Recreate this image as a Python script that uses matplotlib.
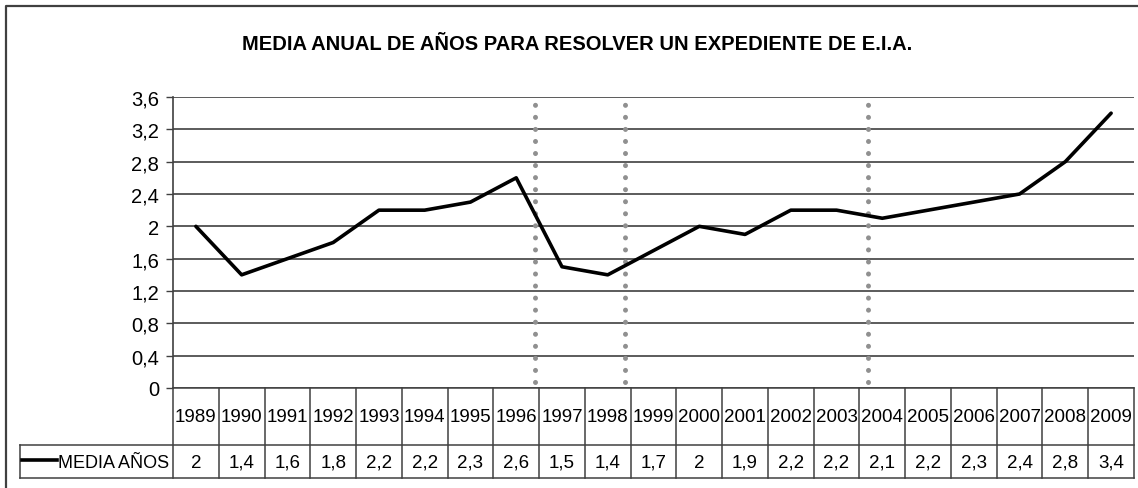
import matplotlib.pyplot as plt
import numpy as np
from matplotlib.lines import Line2D

plt.rcParams['font.family'] = ['Liberation Sans', 'DejaVu Sans']

years = [str(y) for y in range(1989, 2010)]
media = [2, 1.4, 1.6, 1.8, 2.2, 2.2, 2.3, 2.6, 1.5, 1.4, 1.7,
         2, 1.9, 2.2, 2.2, 2.1, 2.2, 2.3, 2.4, 2.8, 3.4]
y_ticks = [0, 0.4, 0.8, 1.2, 1.6, 2, 2.4, 2.8, 3.2, 3.6]
dividers = [7.4, 9.37, 14.68]
title = 'MEDIA ANUAL DE AÑOS PARA RESOLVER UN EXPEDIENTE DE E.I.A.'
series_name = 'MEDIA AÑOS'

W, H = 1138, 489
fig = plt.figure(figsize=(W / 100, H / 100), dpi=100)


def px(x0, y0, x1, y1):
    # pixel box (top-left origin) -> figure fraction rect
    return [x0 / W, (H - y1) / H, (x1 - x0) / W, (y1 - y0) / H]


grid_col = '#404040'
n = len(years)
x = np.arange(n)

# main plot
ax = fig.add_axes(px(173, 98, 1134, 389))
ax.set_xlim(-0.5, n - 0.5)
ax.set_ylim(0, 3.6)
for t in y_ticks:
    ax.axhline(t, color=grid_col, lw=1.2, zorder=1)
for d in dividers:
    ax.plot([d, d], [0.07, 3.52], color='#909090', lw=3.6,
            linestyle=(0, (0.01, 2.4)), dash_capstyle='round', zorder=2)
ax.plot(x, media, color='black', lw=2.6, solid_joinstyle='round',
        solid_capstyle='round', zorder=3)
ax.set_yticks(y_ticks)
ax.set_yticklabels([f'{t:g}'.replace('.', ',') for t in y_ticks], fontsize=14.5)
ax.tick_params(axis='y', length=5, width=1, color=grid_col, pad=5)
ax.set_xticks([])
for s in ['top', 'right', 'bottom']:
    ax.spines[s].set_visible(False)
ax.spines['left'].set_color(grid_col)
ax.spines['left'].set_linewidth(1.2)

# data table
tb = fig.add_axes(px(173, 389, 1134, 479))
tb.set_xlim(-0.5, n - 0.5)
tb.set_ylim(0, 90)
tb.axis('off')
col = 961 / n
left = -0.5 - (173 - 20) / col
kw = dict(color=grid_col, lw=1.1, clip_on=False)
tb.plot([-0.5, n - 0.5], [90, 90], **kw)
tb.plot([left, n - 0.5], [33, 33], **kw)
tb.plot([left, n - 0.5], [0, 0], **kw)
tb.plot([left, left], [0, 33], **kw)
for i in range(n):
    tb.plot([i - 0.5, i - 0.5], [0, 90], **kw)
tb.plot([n - 0.5, n - 0.5], [0, 90], **kw)
for i in range(n):
    tb.text(i, 61, years[i], ha='center', va='center', fontsize=13.5)
    tb.text(i, 15.5, f'{media[i]:g}'.replace('.', ','), ha='center',
            va='center', fontsize=13.5)
tb.plot([left + 0.05, left + 0.8], [18, 18], color='black', lw=2.6, clip_on=False)
tb.text(left + 0.83, 15.5, series_name, ha='left', va='center', fontsize=13)

# title and outer frame
fig.text(577 / W, 1 - 45 / H, title, ha='center', va='center',
         fontsize=14.5, fontweight='bold')
fig.add_artist(Line2D([6 / W, 6 / W, 1], [0, 1 - 7 / H, 1 - 7 / H],
                      color='#404040', lw=1.6, transform=fig.transFigure))

fig.savefig('out.png', dpi=100)
